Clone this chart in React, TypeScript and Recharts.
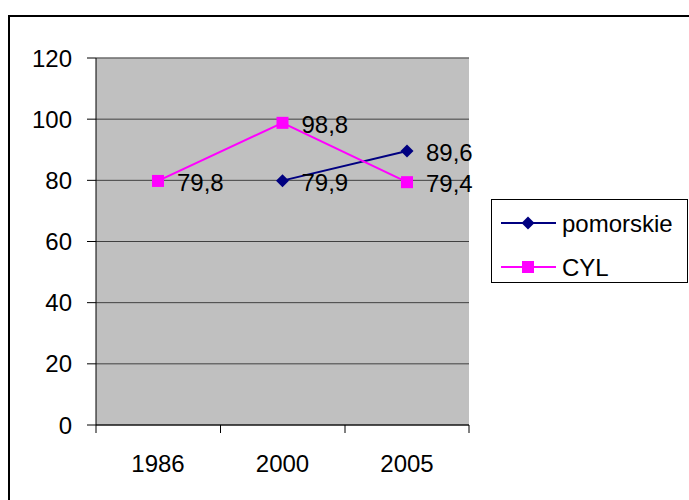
import { LineChart, Line, XAxis, YAxis, CartesianGrid, ReferenceLine, LabelList } from 'recharts';

const years = ['1986', '2000', '2005'];
const pomorskie: (number | null)[] = [null, 79.9, 89.6];
const cyl: (number | null)[] = [79.8, 98.8, 79.4];
const yTicks = [0, 20, 40, 60, 80, 100, 120];

const NAVY = '#000080';
const MAGENTA = '#FF00FF';
const FONT = '"Liberation Sans", Arial, sans-serif';
const HALF_STEP = 62;

const data = years.map((year, i) => ({ year, pomorskie: pomorskie[i], cyl: cyl[i] }));

const series = [
  { key: 'pomorskie', name: 'pomorskie', color: NAVY, shape: 'diamond' },
  { key: 'cyl', name: 'CYL', color: MAGENTA, shape: 'square' },
];

function Marker({ cx, cy, color, shape }: { cx: number; cy: number; color: string; shape: string }) {
  if (shape === 'diamond') {
    const r = 6.5;
    return <path d={`M${cx},${cy - r}L${cx + r},${cy}L${cx},${cy + r}L${cx - r},${cy}Z`} fill={color} />;
  }
  return <rect x={cx - 6} y={cy - 6} width={12} height={12} fill={color} />;
}

function makeDot(color: string, shape: string) {
  return (props: any) => {
    const { cx, cy, index } = props;
    if (cx == null || cy == null || props.value == null) return <g key={`d${index}`} />;
    return (
      <g key={`d${index}`}>
        <Marker cx={cx} cy={cy} color={color} shape={shape} />
      </g>
    );
  };
}

function ValueLabel(props: any) {
  const { x, y, value } = props;
  if (value == null || x == null || y == null) return null;
  return (
    <text x={x + 19} y={y + 10} fontSize={24} fontFamily={FONT} fill="#000">
      {String(value).replace('.', ',')}
    </text>
  );
}

function YearTick(props: any) {
  const { x, y, payload, index } = props;
  return (
    <g>
      <line x1={x - HALF_STEP} y1={y} x2={x - HALF_STEP} y2={y + 8} stroke="#000" />
      {index === years.length - 1 && (
        <line x1={x + HALF_STEP} y1={y} x2={x + HALF_STEP} y2={y + 8} stroke="#000" />
      )}
      <text x={x} y={y + 47} textAnchor="middle" fontSize={24} fontFamily={FONT} fill="#000">
        {payload.value}
      </text>
    </g>
  );
}

function LegendBox() {
  return (
    <div
      style={{
        position: 'absolute',
        left: 491,
        top: 199,
        width: 197,
        height: 84,
        border: '1px solid #000',
        boxSizing: 'border-box',
        background: '#fff',
      }}
    >
      <svg width={195} height={82}>
        {series.map((s, i) => {
          const cy = 23 + i * 44;
          return (
            <g key={s.key}>
              <line x1={9} y1={cy} x2={64} y2={cy} stroke={s.color} strokeWidth={2} />
              <Marker cx={36} cy={cy} color={s.color} shape={s.shape} />
              <text x={70} y={cy + 9} fontSize={24} fontFamily={FONT} fill="#000">
                {s.name}
              </text>
            </g>
          );
        })}
      </svg>
    </div>
  );
}

export default function App() {
  return (
    <div
      style={{
        position: 'absolute',
        left: 0,
        top: 0,
        width: 689,
        height: 500,
        overflow: 'hidden',
        background: '#fff',
        fontFamily: FONT,
      }}
    >
      <div
        style={{
          position: 'absolute',
          left: 8,
          top: 15,
          width: 720,
          height: 520,
          borderTop: '2px solid #000',
          borderLeft: '2px solid #000',
        }}
      />
      <div style={{ position: 'absolute', left: 0, top: 0 }}>
        <LineChart width={689} height={500} data={data} margin={{ top: 58, right: 220, left: 0, bottom: 0 }}>
          <CartesianGrid fill="#C0C0C0" fillOpacity={1} stroke="#404040" vertical={false} />
          <XAxis
            dataKey="year"
            height={75}
            padding={{ left: HALF_STEP, right: HALF_STEP }}
            axisLine={{ stroke: '#000' }}
            tickLine={false}
            tickSize={0}
            tickMargin={0}
            tick={<YearTick />}
            interval={0}
          />
          <YAxis
            width={96}
            domain={[0, 120]}
            ticks={yTicks}
            interval={0}
            axisLine={{ stroke: '#000' }}
            tickLine={{ stroke: '#000' }}
            tickSize={9}
            tickMargin={15}
            tick={{ fontSize: 24, fill: '#000', fontFamily: FONT }}
          />
          <YAxis
            yAxisId="right"
            orientation="right"
            width={0}
            domain={[0, 120]}
            ticks={yTicks}
            tick={false}
            tickLine={false}
            axisLine={{ stroke: '#808080' }}
          />
          <ReferenceLine y={120} stroke="#808080" />
          {series.map((s) => (
            <Line
              key={s.key}
              dataKey={s.key}
              name={s.name}
              stroke={s.color}
              strokeWidth={2}
              dot={makeDot(s.color, s.shape)}
              activeDot={false}
              isAnimationActive={false}
            >
              <LabelList dataKey={s.key} content={<ValueLabel />} />
            </Line>
          ))}
        </LineChart>
      </div>
      <LegendBox />
    </div>
  );
}
